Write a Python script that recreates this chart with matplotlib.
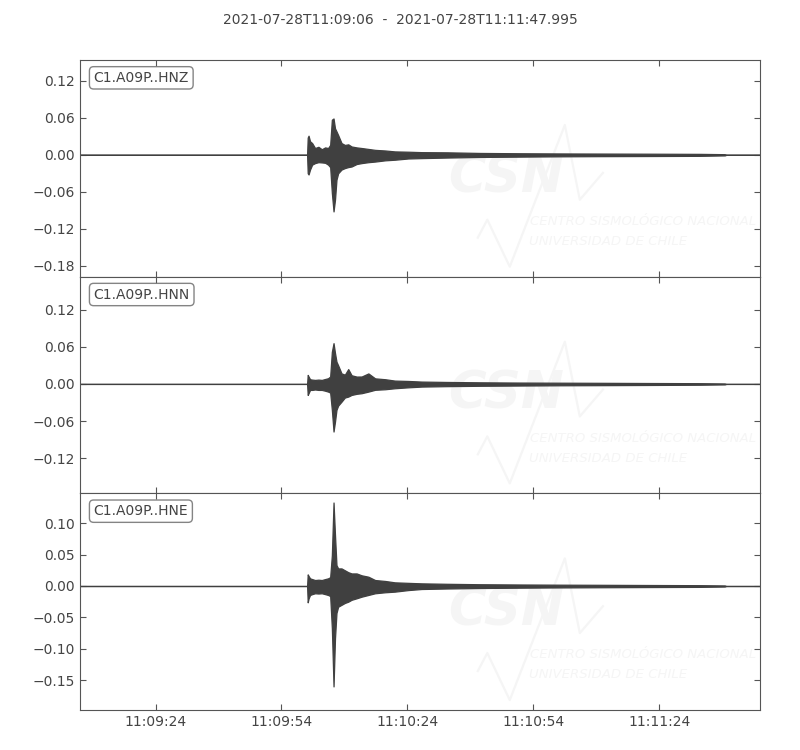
import datetime
import matplotlib
matplotlib.use("Agg")
import matplotlib.pyplot as plt
from matplotlib.ticker import FuncFormatter

start = datetime.datetime(2021, 7, 28, 11, 9, 6)
title = "2021-07-28T11:09:06  -  2021-07-28T11:11:47.995"
duration = 161.995

channels = ["C1.A09P..HNZ", "C1.A09P..HNN", "C1.A09P..HNE"]

# envelope knots, seconds after start
env_t = [0, 54.1, 54.25, 54.45, 54.8, 55.3, 56.0, 56.8, 57.6, 58.4, 59.1, 59.6,
         60.0, 60.4, 60.75, 61.1, 61.5, 62.3, 63.1, 63.9, 64.7, 65.9, 67.1, 68.7,
         70.3, 72.7, 75.0, 78.2, 81.4, 87.4, 95.3, 104.8, 114.0, 123.9, 135.0,
         147.7, 153.6, 154.0, 161.995]

hnz_up = [0, 0, 0.028, 0.031, 0.022, 0.019, 0.011, 0.013, 0.009, 0.012, 0.011, 0.016,
          0.057, 0.059, 0.043, 0.038, 0.032, 0.019, 0.016, 0.017, 0.0135, 0.012, 0.011, 0.0095,
          0.008, 0.007, 0.0055, 0.005, 0.0043, 0.004, 0.003, 0.0025, 0.0022, 0.002, 0.0018,
          0.0015, 0.001, 0, 0]
hnz_lo = [0, 0, -0.030, -0.032, -0.024, -0.016, -0.0135, -0.012, -0.0124, -0.013, -0.016, -0.020,
          -0.062, -0.092, -0.073, -0.0405, -0.030, -0.024, -0.0216, -0.020, -0.019, -0.015, -0.0135, -0.012,
          -0.011, -0.009, -0.008, -0.006, -0.0054, -0.0045, -0.0035, -0.003, -0.0025, -0.0022, -0.002,
          -0.0017, -0.001, 0, 0]

hnn_up = [0, 0, 0.0146, 0.012, 0.0076, 0.007, 0.0065, 0.007, 0.0065, 0.008, 0.0092, 0.012,
          0.052, 0.066, 0.050, 0.036, 0.030, 0.017, 0.015, 0.024, 0.014, 0.0119, 0.012, 0.017,
          0.009, 0.0076, 0.0054, 0.0048, 0.0038, 0.0032, 0.0026, 0.0022, 0.002, 0.0018, 0.0015,
          0.0012, 0.0008, 0, 0]
hnn_lo = [0, 0, -0.0178, -0.015, -0.0097, -0.0097, -0.009, -0.0097, -0.0097, -0.011, -0.0124, -0.014,
          -0.042, -0.077, -0.061, -0.042, -0.035, -0.0287, -0.022, -0.0205, -0.0178, -0.016, -0.015, -0.0124,
          -0.0095, -0.0086, -0.007, -0.0055, -0.0043, -0.0036, -0.003, -0.0026, -0.0022, -0.002, -0.0017,
          -0.0013, -0.0008, 0, 0]

hne_up = [0, 0, 0.0185, 0.016, 0.0122, 0.011, 0.0095, 0.010, 0.0095, 0.011, 0.0122, 0.014,
          0.049, 0.133, 0.081, 0.0333, 0.028, 0.028, 0.025, 0.022, 0.020, 0.020, 0.017, 0.0148,
          0.0095, 0.008, 0.0058, 0.005, 0.0042, 0.0035, 0.0028, 0.0024, 0.0021, 0.0019, 0.0016,
          0.0013, 0.0009, 0, 0]
hne_lo = [0, 0, -0.026, -0.020, -0.0143, -0.013, -0.0116, -0.012, -0.0116, -0.013, -0.0143, -0.016,
          -0.067, -0.160, -0.083, -0.043, -0.033, -0.030, -0.027, -0.025, -0.022, -0.0196, -0.017, -0.0143,
          -0.0116, -0.010, -0.009, -0.0065, -0.0048, -0.004, -0.0032, -0.0027, -0.0023, -0.002, -0.0017,
          -0.0014, -0.0009, 0, 0]

uppers = [hnz_up, hnn_up, hne_up]
lowers = [hnz_lo, hnn_lo, hne_lo]

ylims = [(-0.198, 0.154), (-0.177, 0.1735), (-0.1976, 0.1476)]
yticks = [[-0.18, -0.12, -0.06, 0.00, 0.06, 0.12],
          [-0.12, -0.06, 0.00, 0.06, 0.12],
          [-0.15, -0.10, -0.05, 0.00, 0.05, 0.10]]
xticks = [18, 48, 78, 108, 138]

trace_color = "#404040"
text_color = "#444444"
mark_color = "#f5f5f5"

fig = plt.figure(figsize=(8, 7.5), dpi=100)
axes = fig.subplots(3, 1, sharex=True)
fig.subplots_adjust(left=0.1, right=0.95, top=0.92, bottom=0.0533, hspace=0)

def clock(x, pos):
    return (start + datetime.timedelta(seconds=float(x))).strftime("%H:%M:%S")

def yfmt(v, pos):
    return ("%.2f" % v).replace("-", "\u2212")

for i, ax in enumerate(axes):
    # faint CSN watermark
    ax.plot([0.585, 0.599, 0.632, 0.713, 0.735, 0.769],
            [0.18, 0.263, 0.046, 0.70, 0.355, 0.479],
            transform=ax.transAxes, color=mark_color, lw=1.6, zorder=0)
    ax.text(0.627, 0.455, "CSN", transform=ax.transAxes, fontsize=37,
            fontweight="bold", style="italic", color=mark_color,
            ha="center", va="center", zorder=0)
    ax.text(0.662, 0.255, "CENTRO SISMOLÓGICO NACIONAL", transform=ax.transAxes,
            fontsize=9.5, style="italic", color=mark_color, ha="left", va="center",
            zorder=0, clip_on=True)
    ax.text(0.660, 0.162, "UNIVERSIDAD DE CHILE", transform=ax.transAxes,
            fontsize=9.5, style="italic", color=mark_color, ha="left", va="center",
            zorder=0, clip_on=True)

    ax.fill_between(env_t, lowers[i], uppers[i], color=trace_color,
                    edgecolor=trace_color, lw=0.9, zorder=2)

    ax.set_xlim(0, duration)
    ax.set_ylim(*ylims[i])
    ax.set_yticks(yticks[i])
    ax.yaxis.set_major_formatter(FuncFormatter(yfmt))
    ax.set_xticks(xticks)
    ax.xaxis.set_major_formatter(FuncFormatter(clock))
    ax.tick_params(direction="in", top=True, right=True, length=4, color="#555555",
                   labelcolor=text_color, labelsize=10)
    for s in ax.spines.values():
        s.set_color("#555555")
    ax.text(0.02, 0.95, channels[i], transform=ax.transAxes, va="top", ha="left",
            fontsize=10, color=text_color,
            bbox=dict(boxstyle="round", fc="w", ec="#666666", alpha=0.8), zorder=5)

for ax in axes[:-1]:
    ax.tick_params(labelbottom=False)

fig.suptitle(title, y=0.983, fontsize=10, color=text_color)

fig.savefig("out.png", dpi=100)
